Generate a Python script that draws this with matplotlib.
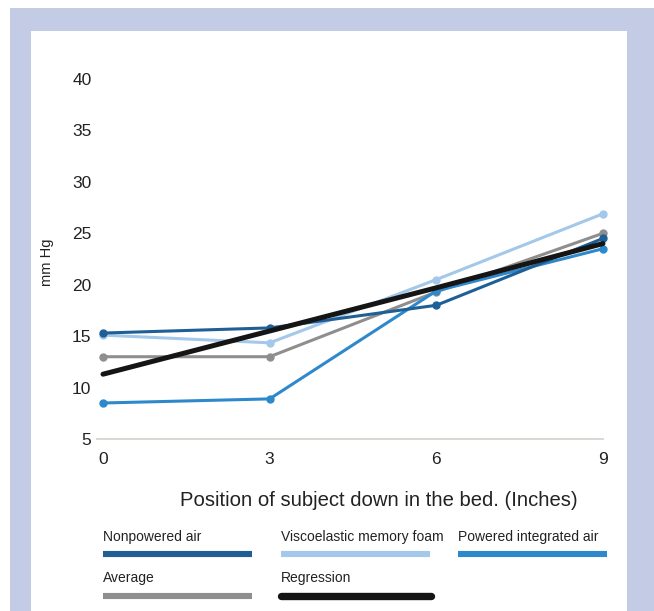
import matplotlib
matplotlib.use("Agg")
import matplotlib.pyplot as plt
from matplotlib.lines import Line2D
from matplotlib.patches import Rectangle

# ---- data ----
positions = [0, 3, 6, 9]
nonpowered_air = [15.3, 15.8, 18.0, 24.5]
viscoelastic_foam = [15.1, 14.35, 20.5, 26.9]
powered_integrated_air = [8.5, 8.9, 19.4, 23.5]
average = [13.0, 13.0, 19.3, 25.0]
regression = [11.3, 15.5, 19.7, 24.0]
y_ticks = [5, 10, 15, 20, 25, 30, 35, 40]
x_ticks = [0, 3, 6, 9]
series_names = ["Nonpowered air", "Viscoelastic memory foam", "Powered integrated air",
                "Average", "Regression"]

W, H = 654, 611
plt.rcParams['font.family'] = ['Liberation Sans', 'DejaVu Sans']
fig = plt.figure(figsize=(W / 100, H / 100), dpi=100)
fig.patch.set_facecolor("white")


def fx(x):
    return x / W


def fy(y):
    return 1 - y / H


# frame
fig.add_artist(Rectangle((fx(10), 0), 1 - fx(10), fy(8), transform=fig.transFigure,
                         facecolor="#c3cbe5", edgecolor="none", zorder=-10))
fig.add_artist(Rectangle((fx(31), 0), fx(627) - fx(31), fy(31), transform=fig.transFigure,
                         facecolor="white", edgecolor="none", zorder=-9))

# axes: x 97..603 px, y 79..439 px
ax = fig.add_axes([fx(97), fy(439), fx(603) - fx(97), fy(79) - fy(439)])
ax.set_facecolor("none")
ax.set_xlim(-0.108, 9)
ax.set_ylim(5, 40)
for s in ["top", "right", "left"]:
    ax.spines[s].set_visible(False)
ax.spines["bottom"].set_color("#d8d3ce")
ax.spines["bottom"].set_linewidth(1.3)
ax.set_yticks(y_ticks)
ax.set_xticks(x_ticks)
ax.tick_params(axis="both", length=0, labelsize=12.5, colors="#222222")
ax.tick_params(axis="y", pad=4)
ax.tick_params(axis="x", pad=9)

colors = ["#1f5f96", "#a3c8ea", "#2e89cc", "#8e8e8e", "#151515"]
series = [nonpowered_air, viscoelastic_foam, powered_integrated_air, average]
order = [1, 3, 2, 0]
for i in order:
    ax.plot(positions, series[i], color=colors[i], lw=2.2, marker="o", ms=5,
            clip_on=False, solid_capstyle="round", zorder=3)
ax.plot(positions, regression, color=colors[4], lw=3.6, solid_capstyle="round",
        clip_on=False, zorder=4)

fig.text(fx(47), fy(262), "mm Hg", rotation=90, ha="center", va="center",
         fontsize=10.5, color="#222222")
fig.text(fx(379), fy(501), "Position of subject down in the bed. (Inches)",
         ha="center", va="center", fontsize=14.6, color="#222222")

# legend
leg_pos = [(103, 537, 554), (281, 537, 554), (458, 537, 554), (103, 578, 596), (281, 578, 596)]
for i, (x0, ty, ly) in enumerate(leg_pos):
    fig.text(fx(x0), fy(ty), series_names[i], ha="left", va="center",
             fontsize=10, color="#222222")
    if i == 4:
        fig.add_artist(Line2D([fx(x0), fx(x0 + 150)], [fy(ly), fy(ly)],
                              transform=fig.transFigure, color=colors[i], lw=5.3,
                              solid_capstyle="round"))
    else:
        fig.add_artist(Line2D([fx(x0), fx(x0 + 149)], [fy(ly), fy(ly)],
                              transform=fig.transFigure, color=colors[i], lw=4.4,
                              solid_capstyle="butt"))

fig.savefig("out.png", dpi=100)
